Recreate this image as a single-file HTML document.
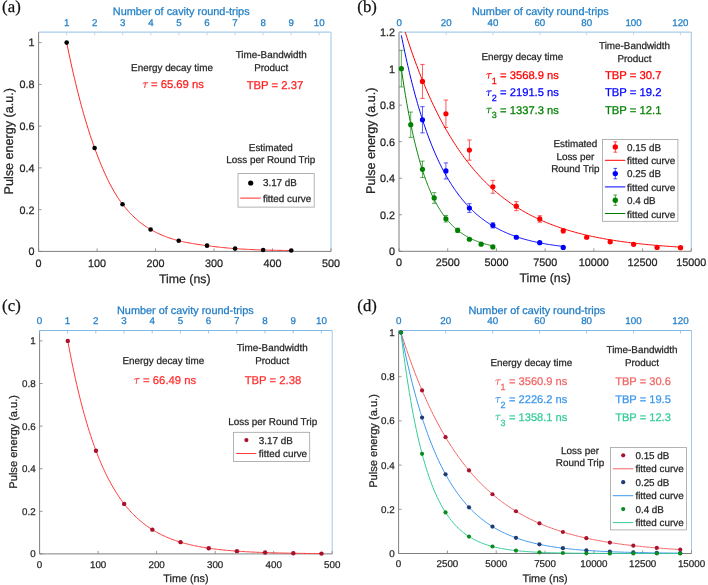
<!DOCTYPE html><html><head><meta charset="utf-8"><style>html,body{margin:0;padding:0;background:#fff;}svg{display:block;will-change:transform;}text{text-rendering:geometricPrecision;stroke:currentColor;stroke-width:0.25px;}text{font-family:"Liberation Sans", sans-serif;}</style></head><body>
<svg width="708" height="585" viewBox="0 0 708 585">
<rect width="708" height="585" fill="#fff"/>
<line x1="38.60" y1="32.20" x2="331.00" y2="32.20" stroke="#a9cdea" stroke-width="1.2"/>
<line x1="331.00" y1="32.20" x2="331.00" y2="251.40" stroke="#a9cdea" stroke-width="1.2"/>
<line x1="38.60" y1="32.20" x2="38.60" y2="251.40" stroke="#7f7f7f" stroke-width="1"/>
<line x1="38.60" y1="251.40" x2="331.00" y2="251.40" stroke="#7f7f7f" stroke-width="1"/>
<line x1="38.60" y1="251.40" x2="41.60" y2="251.40" stroke="#7f7f7f" stroke-width="0.8"/>
<text x="34.60" y="255.29" font-size="10.8" fill="#262626" color="#262626" text-anchor="end" >0</text>
<line x1="38.60" y1="209.64" x2="41.60" y2="209.64" stroke="#7f7f7f" stroke-width="0.8"/>
<text x="34.60" y="213.53" font-size="10.8" fill="#262626" color="#262626" text-anchor="end" >0.2</text>
<line x1="38.60" y1="167.88" x2="41.60" y2="167.88" stroke="#7f7f7f" stroke-width="0.8"/>
<text x="34.60" y="171.77" font-size="10.8" fill="#262626" color="#262626" text-anchor="end" >0.4</text>
<line x1="38.60" y1="126.12" x2="41.60" y2="126.12" stroke="#7f7f7f" stroke-width="0.8"/>
<text x="34.60" y="130.01" font-size="10.8" fill="#262626" color="#262626" text-anchor="end" >0.6</text>
<line x1="38.60" y1="84.36" x2="41.60" y2="84.36" stroke="#7f7f7f" stroke-width="0.8"/>
<text x="34.60" y="88.25" font-size="10.8" fill="#262626" color="#262626" text-anchor="end" >0.8</text>
<line x1="38.60" y1="42.60" x2="41.60" y2="42.60" stroke="#7f7f7f" stroke-width="0.8"/>
<text x="34.60" y="46.49" font-size="10.8" fill="#262626" color="#262626" text-anchor="end" >1</text>
<line x1="38.60" y1="251.40" x2="38.60" y2="248.40" stroke="#7f7f7f" stroke-width="0.8"/>
<text x="38.60" y="266.60" font-size="10.8" fill="#262626" color="#262626" text-anchor="middle" >0</text>
<line x1="97.08" y1="251.40" x2="97.08" y2="248.40" stroke="#7f7f7f" stroke-width="0.8"/>
<text x="97.08" y="266.60" font-size="10.8" fill="#262626" color="#262626" text-anchor="middle" >100</text>
<line x1="155.56" y1="251.40" x2="155.56" y2="248.40" stroke="#7f7f7f" stroke-width="0.8"/>
<text x="155.56" y="266.60" font-size="10.8" fill="#262626" color="#262626" text-anchor="middle" >200</text>
<line x1="214.04" y1="251.40" x2="214.04" y2="248.40" stroke="#7f7f7f" stroke-width="0.8"/>
<text x="214.04" y="266.60" font-size="10.8" fill="#262626" color="#262626" text-anchor="middle" >300</text>
<line x1="272.52" y1="251.40" x2="272.52" y2="248.40" stroke="#7f7f7f" stroke-width="0.8"/>
<text x="272.52" y="266.60" font-size="10.8" fill="#262626" color="#262626" text-anchor="middle" >400</text>
<line x1="331.00" y1="251.40" x2="331.00" y2="248.40" stroke="#7f7f7f" stroke-width="0.8"/>
<text x="331.00" y="266.60" font-size="10.8" fill="#262626" color="#262626" text-anchor="middle" >500</text>
<line x1="66.66" y1="32.20" x2="66.66" y2="35.20" stroke="#a9cdea" stroke-width="0.8"/>
<text x="66.66" y="26.20" font-size="9.7" fill="#2380c6" color="#2380c6" text-anchor="middle" >1</text>
<line x1="94.72" y1="32.20" x2="94.72" y2="35.20" stroke="#a9cdea" stroke-width="0.8"/>
<text x="94.72" y="26.20" font-size="9.7" fill="#2380c6" color="#2380c6" text-anchor="middle" >2</text>
<line x1="122.78" y1="32.20" x2="122.78" y2="35.20" stroke="#a9cdea" stroke-width="0.8"/>
<text x="122.78" y="26.20" font-size="9.7" fill="#2380c6" color="#2380c6" text-anchor="middle" >3</text>
<line x1="150.84" y1="32.20" x2="150.84" y2="35.20" stroke="#a9cdea" stroke-width="0.8"/>
<text x="150.84" y="26.20" font-size="9.7" fill="#2380c6" color="#2380c6" text-anchor="middle" >4</text>
<line x1="178.90" y1="32.20" x2="178.90" y2="35.20" stroke="#a9cdea" stroke-width="0.8"/>
<text x="178.90" y="26.20" font-size="9.7" fill="#2380c6" color="#2380c6" text-anchor="middle" >5</text>
<line x1="206.96" y1="32.20" x2="206.96" y2="35.20" stroke="#a9cdea" stroke-width="0.8"/>
<text x="206.96" y="26.20" font-size="9.7" fill="#2380c6" color="#2380c6" text-anchor="middle" >6</text>
<line x1="235.02" y1="32.20" x2="235.02" y2="35.20" stroke="#a9cdea" stroke-width="0.8"/>
<text x="235.02" y="26.20" font-size="9.7" fill="#2380c6" color="#2380c6" text-anchor="middle" >7</text>
<line x1="263.08" y1="32.20" x2="263.08" y2="35.20" stroke="#a9cdea" stroke-width="0.8"/>
<text x="263.08" y="26.20" font-size="9.7" fill="#2380c6" color="#2380c6" text-anchor="middle" >8</text>
<line x1="291.14" y1="32.20" x2="291.14" y2="35.20" stroke="#a9cdea" stroke-width="0.8"/>
<text x="291.14" y="26.20" font-size="9.7" fill="#2380c6" color="#2380c6" text-anchor="middle" >9</text>
<line x1="319.20" y1="32.20" x2="319.20" y2="35.20" stroke="#a9cdea" stroke-width="0.8"/>
<text x="319.20" y="26.20" font-size="9.7" fill="#2380c6" color="#2380c6" text-anchor="middle" >10</text>
<text x="181.20" y="15.40" font-size="10.9" fill="#2380c6" color="#2380c6" text-anchor="middle" >Number of cavity round-trips</text>
<text x="184.80" y="283.00" font-size="12.3" fill="#262626" color="#262626" text-anchor="middle" >Time (ns)</text>
<text transform="translate(13.40,141.30) rotate(-90)" font-size="12.6" fill="#262626" color="#262626" text-anchor="middle">Pulse energy (a.u.)</text>
<polyline fill="none" stroke="#ff2a2a" stroke-width="1.0" points="66.67,42.60 67.79,48.09 68.92,53.47 70.04,58.73 71.16,63.88 72.28,68.91 73.41,73.83 74.53,78.65 75.65,83.35 76.78,87.95 77.90,92.45 79.02,96.84 80.14,101.13 81.27,105.32 82.39,109.41 83.51,113.40 84.64,117.30 85.76,121.11 86.88,124.82 88.00,128.44 89.13,131.97 90.25,135.42 91.37,138.78 92.50,142.06 93.62,145.25 94.74,148.36 95.86,151.41 96.99,154.39 98.11,157.31 99.23,160.17 100.35,162.96 101.48,165.68 102.60,168.33 103.72,170.92 104.85,173.43 105.97,175.88 107.09,178.26 108.21,180.56 109.34,182.80 110.46,184.97 111.58,187.08 112.71,189.11 113.83,191.08 114.95,192.99 116.07,194.83 117.20,196.60 118.32,198.32 119.44,199.98 120.57,201.57 121.69,203.11 122.81,204.59 123.93,206.03 125.06,207.42 126.18,208.76 127.30,210.07 128.43,211.33 129.55,212.56 130.67,213.75 131.79,214.90 132.92,216.01 134.04,217.09 135.16,218.14 136.28,219.15 137.41,220.12 138.53,221.07 139.65,221.99 140.78,222.87 141.90,223.73 143.02,224.56 144.14,225.36 145.27,226.14 146.39,226.89 147.51,227.61 148.64,228.31 149.76,228.99 150.88,229.64 152.00,230.28 153.13,230.90 154.25,231.50 155.37,232.08 156.50,232.64 157.62,233.19 158.74,233.72 159.86,234.23 160.99,234.73 162.11,235.21 163.23,235.67 164.36,236.12 165.48,236.56 166.60,236.98 167.72,237.39 168.85,237.78 169.97,238.16 171.09,238.53 172.22,238.88 173.34,239.23 174.46,239.56 175.58,239.88 176.71,240.18 177.83,240.48 178.95,240.77 180.07,241.04 181.20,241.31 182.32,241.56 183.44,241.80 184.57,242.04 185.69,242.27 186.81,242.49 187.93,242.70 189.06,242.91 190.18,243.11 191.30,243.30 192.43,243.49 193.55,243.68 194.67,243.86 195.79,244.03 196.92,244.21 198.04,244.38 199.16,244.55 200.29,244.71 201.41,244.87 202.53,245.04 203.65,245.19 204.78,245.35 205.90,245.50 207.02,245.66 208.15,245.81 209.27,245.96 210.39,246.11 211.51,246.25 212.64,246.39 213.76,246.53 214.88,246.67 216.00,246.80 217.13,246.94 218.25,247.06 219.37,247.19 220.50,247.31 221.62,247.43 222.74,247.55 223.86,247.66 224.99,247.77 226.11,247.87 227.23,247.97 228.36,248.07 229.48,248.17 230.60,248.26 231.72,248.35 232.85,248.44 233.97,248.52 235.09,248.60 236.22,248.68 237.34,248.76 238.46,248.83 239.58,248.90 240.71,248.98 241.83,249.05 242.95,249.11 244.08,249.18 245.20,249.24 246.32,249.30 247.44,249.36 248.57,249.42 249.69,249.48 250.81,249.53 251.94,249.58 253.06,249.63 254.18,249.68 255.30,249.73 256.43,249.77 257.55,249.81 258.67,249.86 259.79,249.89 260.92,249.93 262.04,249.97 263.16,250.00 264.29,250.03 265.41,250.07 266.53,250.10 267.65,250.13 268.78,250.15 269.90,250.18 271.02,250.21 272.15,250.23 273.27,250.26 274.39,250.28 275.51,250.31 276.64,250.33 277.76,250.35 278.88,250.37 280.01,250.39 281.13,250.41 282.25,250.43 283.37,250.45 284.50,250.47 285.62,250.49 286.74,250.50 287.87,250.52 288.99,250.54 290.11,250.55 291.23,250.56"/>
<circle cx="66.67" cy="42.60" r="2.3" fill="#000"/>
<circle cx="94.62" cy="148.04" r="2.3" fill="#000"/>
<circle cx="122.52" cy="204.21" r="2.3" fill="#000"/>
<circle cx="150.59" cy="229.48" r="2.3" fill="#000"/>
<circle cx="178.72" cy="240.71" r="2.3" fill="#000"/>
<circle cx="207.02" cy="245.66" r="2.3" fill="#000"/>
<circle cx="235.09" cy="248.60" r="2.3" fill="#000"/>
<circle cx="263.16" cy="250.00" r="2.3" fill="#000"/>
<circle cx="291.23" cy="250.56" r="2.3" fill="#000"/>
<text x="172.00" y="70.70" font-size="9.9" fill="#262626" color="#262626" text-anchor="middle" >Energy decay time</text>
<path d="M142.70,83.70 Q143.50,82.70 144.80,82.80 L148.20,82.80 M145.40,82.90 Q145.10,85.50 144.70,87.90" fill="none" stroke="#ff2020" stroke-width="0.95" stroke-linecap="butt"/>
<text x="150.90" y="88.10" font-size="11.3" fill="#ff2020" color="#ff2020" text-anchor="start" >= 65.69 ns</text>
<text x="271.20" y="58.30" font-size="9.9" fill="#262626" color="#262626" text-anchor="middle" >Time-Bandwidth</text>
<text x="271.20" y="70.80" font-size="9.9" fill="#262626" color="#262626" text-anchor="middle" >Product</text>
<text x="275.00" y="89.20" font-size="11.3" fill="#ff2020" color="#ff2020" text-anchor="middle" >TBP = 2.37</text>
<text x="270.80" y="150.80" font-size="9.9" fill="#262626" color="#262626" text-anchor="middle" >Estimated</text>
<text x="270.80" y="163.40" font-size="9.9" fill="#262626" color="#262626" text-anchor="middle" >Loss per Round Trip</text>
<rect x="238" y="173.6" width="76.2" height="33.5" fill="#fff" stroke="#a0a0a0" stroke-width="0.8"/>
<circle cx="250.70" cy="183.00" r="2.6" fill="#000"/>
<text x="262.90" y="186.40" font-size="9.9" fill="#262626" color="#262626" text-anchor="start" >3.17 dB</text>
<line x1="240.20" y1="198.10" x2="260.80" y2="198.10" stroke="#ff2a2a" stroke-width="1.0"/>
<text x="262.90" y="202.00" font-size="9.9" fill="#262626" color="#262626" text-anchor="start" >fitted curve</text>
<text x="2.10" y="11.70" font-size="16.8" fill="#111" color="#111" text-anchor="start" style="font-family:Liberation Serif">(a)</text>
<line x1="399.00" y1="32.10" x2="691.30" y2="32.10" stroke="#a9cdea" stroke-width="1.2"/>
<line x1="691.30" y1="32.10" x2="691.30" y2="251.30" stroke="#a9cdea" stroke-width="1.2"/>
<line x1="399.00" y1="32.10" x2="399.00" y2="251.30" stroke="#7f7f7f" stroke-width="1"/>
<line x1="399.00" y1="251.30" x2="691.30" y2="251.30" stroke="#7f7f7f" stroke-width="1"/>
<line x1="399.00" y1="251.30" x2="402.00" y2="251.30" stroke="#7f7f7f" stroke-width="0.8"/>
<text x="395.00" y="255.19" font-size="10.8" fill="#262626" color="#262626" text-anchor="end" >0</text>
<line x1="399.00" y1="214.77" x2="402.00" y2="214.77" stroke="#7f7f7f" stroke-width="0.8"/>
<text x="395.00" y="218.65" font-size="10.8" fill="#262626" color="#262626" text-anchor="end" >0.2</text>
<line x1="399.00" y1="178.23" x2="402.00" y2="178.23" stroke="#7f7f7f" stroke-width="0.8"/>
<text x="395.00" y="182.12" font-size="10.8" fill="#262626" color="#262626" text-anchor="end" >0.4</text>
<line x1="399.00" y1="141.70" x2="402.00" y2="141.70" stroke="#7f7f7f" stroke-width="0.8"/>
<text x="395.00" y="145.59" font-size="10.8" fill="#262626" color="#262626" text-anchor="end" >0.6</text>
<line x1="399.00" y1="105.17" x2="402.00" y2="105.17" stroke="#7f7f7f" stroke-width="0.8"/>
<text x="395.00" y="109.05" font-size="10.8" fill="#262626" color="#262626" text-anchor="end" >0.8</text>
<line x1="399.00" y1="68.63" x2="402.00" y2="68.63" stroke="#7f7f7f" stroke-width="0.8"/>
<text x="395.00" y="72.52" font-size="10.8" fill="#262626" color="#262626" text-anchor="end" >1</text>
<line x1="399.00" y1="32.10" x2="402.00" y2="32.10" stroke="#7f7f7f" stroke-width="0.8"/>
<text x="395.00" y="35.99" font-size="10.8" fill="#262626" color="#262626" text-anchor="end" >1.2</text>
<line x1="399.00" y1="251.30" x2="399.00" y2="248.30" stroke="#7f7f7f" stroke-width="0.8"/>
<text x="399.00" y="266.40" font-size="10.8" fill="#262626" color="#262626" text-anchor="middle" >0</text>
<line x1="447.72" y1="251.30" x2="447.72" y2="248.30" stroke="#7f7f7f" stroke-width="0.8"/>
<text x="447.72" y="266.40" font-size="10.8" fill="#262626" color="#262626" text-anchor="middle" >2500</text>
<line x1="496.43" y1="251.30" x2="496.43" y2="248.30" stroke="#7f7f7f" stroke-width="0.8"/>
<text x="496.43" y="266.40" font-size="10.8" fill="#262626" color="#262626" text-anchor="middle" >5000</text>
<line x1="545.15" y1="251.30" x2="545.15" y2="248.30" stroke="#7f7f7f" stroke-width="0.8"/>
<text x="545.15" y="266.40" font-size="10.8" fill="#262626" color="#262626" text-anchor="middle" >7500</text>
<line x1="593.87" y1="251.30" x2="593.87" y2="248.30" stroke="#7f7f7f" stroke-width="0.8"/>
<text x="593.87" y="266.40" font-size="10.8" fill="#262626" color="#262626" text-anchor="middle" >10000</text>
<line x1="642.58" y1="251.30" x2="642.58" y2="248.30" stroke="#7f7f7f" stroke-width="0.8"/>
<text x="642.58" y="266.40" font-size="10.8" fill="#262626" color="#262626" text-anchor="middle" >12500</text>
<line x1="691.30" y1="251.30" x2="691.30" y2="248.30" stroke="#7f7f7f" stroke-width="0.8"/>
<text x="691.30" y="266.40" font-size="10.8" fill="#262626" color="#262626" text-anchor="middle" >15000</text>
<line x1="399.30" y1="32.10" x2="399.30" y2="35.10" stroke="#a9cdea" stroke-width="0.8"/>
<text x="399.30" y="26.00" font-size="9.7" fill="#2380c6" color="#2380c6" text-anchor="middle" >0</text>
<line x1="446.15" y1="32.10" x2="446.15" y2="35.10" stroke="#a9cdea" stroke-width="0.8"/>
<text x="446.15" y="26.00" font-size="9.7" fill="#2380c6" color="#2380c6" text-anchor="middle" >20</text>
<line x1="493.00" y1="32.10" x2="493.00" y2="35.10" stroke="#a9cdea" stroke-width="0.8"/>
<text x="493.00" y="26.00" font-size="9.7" fill="#2380c6" color="#2380c6" text-anchor="middle" >40</text>
<line x1="539.85" y1="32.10" x2="539.85" y2="35.10" stroke="#a9cdea" stroke-width="0.8"/>
<text x="539.85" y="26.00" font-size="9.7" fill="#2380c6" color="#2380c6" text-anchor="middle" >60</text>
<line x1="586.70" y1="32.10" x2="586.70" y2="35.10" stroke="#a9cdea" stroke-width="0.8"/>
<text x="586.70" y="26.00" font-size="9.7" fill="#2380c6" color="#2380c6" text-anchor="middle" >80</text>
<line x1="633.55" y1="32.10" x2="633.55" y2="35.10" stroke="#a9cdea" stroke-width="0.8"/>
<text x="633.55" y="26.00" font-size="9.7" fill="#2380c6" color="#2380c6" text-anchor="middle" >100</text>
<line x1="680.40" y1="32.10" x2="680.40" y2="35.10" stroke="#a9cdea" stroke-width="0.8"/>
<text x="680.40" y="26.00" font-size="9.7" fill="#2380c6" color="#2380c6" text-anchor="middle" >120</text>
<text x="540.30" y="15.30" font-size="10.9" fill="#2380c6" color="#2380c6" text-anchor="middle" >Number of cavity round-trips</text>
<text x="545.15" y="282.20" font-size="12.3" fill="#262626" color="#262626" text-anchor="middle" >Time (ns)</text>
<text transform="translate(374.60,140.80) rotate(-90)" font-size="12.6" fill="#262626" color="#262626" text-anchor="middle">Pulse energy (a.u.)</text>
<svg x="0" y="0" width="708" height="585" overflow="hidden"><clipPath id="cb"><rect x="399" y="32.1" width="292.3" height="219.2"/></clipPath><g clip-path="url(#cb)">
<polyline fill="none" stroke="#ff0000" stroke-width="1.0" points="401.35,19.59 402.74,24.20 404.14,28.71 405.53,33.13 406.93,37.47 408.33,41.72 409.72,45.88 411.12,49.97 412.51,53.97 413.91,57.89 415.31,61.73 416.70,65.50 418.10,69.19 419.49,72.81 420.89,76.36 422.29,79.83 423.68,83.24 425.08,86.58 426.47,89.85 427.87,93.06 429.27,96.21 430.66,99.29 432.06,102.31 433.45,105.27 434.85,108.17 436.25,111.02 437.64,113.81 439.04,116.54 440.43,119.22 441.83,121.84 443.23,124.41 444.62,126.93 446.02,129.41 447.41,131.83 448.81,134.20 450.21,136.53 451.60,138.81 453.00,141.05 454.39,143.24 455.79,145.38 457.19,147.49 458.58,149.55 459.98,151.57 461.37,153.56 462.77,155.50 464.17,157.40 465.56,159.27 466.96,161.10 468.35,162.89 469.75,164.65 471.15,166.37 472.54,168.06 473.94,169.71 475.33,171.33 476.73,172.92 478.13,174.48 479.52,176.01 480.92,177.50 482.31,178.97 483.71,180.41 485.11,181.82 486.50,183.20 487.90,184.55 489.29,185.88 490.69,187.18 492.09,188.45 493.48,189.70 494.88,190.92 496.27,192.12 497.67,193.30 499.07,194.45 500.46,195.58 501.86,196.69 503.25,197.77 504.65,198.84 506.05,199.88 507.44,200.90 508.84,201.90 510.23,202.89 511.63,203.85 513.03,204.79 514.42,205.71 515.82,206.62 517.21,207.51 518.61,208.38 520.00,209.23 521.40,210.07 522.80,210.89 524.19,211.69 525.59,212.48 526.98,213.25 528.38,214.01 529.78,214.75 531.17,215.47 532.57,216.18 533.96,216.88 535.36,217.57 536.76,218.24 538.15,218.89 539.55,219.54 540.94,220.17 542.34,220.79 543.74,221.39 545.13,221.99 546.53,222.57 547.92,223.14 549.32,223.70 550.72,224.25 552.11,224.79 553.51,225.31 554.90,225.83 556.30,226.34 557.70,226.83 559.09,227.32 560.49,227.80 561.88,228.26 563.28,228.72 564.68,229.17 566.07,229.61 567.47,230.04 568.86,230.46 570.26,230.88 571.66,231.28 573.05,231.68 574.45,232.07 575.84,232.45 577.24,232.83 578.64,233.19 580.03,233.55 581.43,233.91 582.82,234.25 584.22,234.59 585.62,234.92 587.01,235.25 588.41,235.57 589.80,235.88 591.20,236.19 592.60,236.49 593.99,236.78 595.39,237.07 596.78,237.35 598.18,237.63 599.58,237.90 600.97,238.17 602.37,238.43 603.76,238.68 605.16,238.94 606.56,239.18 607.95,239.42 609.35,239.66 610.74,239.89 612.14,240.12 613.54,240.34 614.93,240.56 616.33,240.77 617.72,240.98 619.12,241.18 620.52,241.39 621.91,241.58 623.31,241.78 624.70,241.96 626.10,242.15 627.50,242.33 628.89,242.51 630.29,242.68 631.68,242.86 633.08,243.02 634.48,243.19 635.87,243.35 637.27,243.51 638.66,243.66 640.06,243.81 641.46,243.96 642.85,244.11 644.25,244.25 645.64,244.39 647.04,244.53 648.44,244.66 649.83,244.80 651.23,244.92 652.62,245.05 654.02,245.18 655.42,245.30 656.81,245.42 658.21,245.53 659.60,245.65 661.00,245.76 662.40,245.87 663.79,245.98 665.19,246.08 666.58,246.19 667.98,246.29 669.38,246.39 670.77,246.49 672.17,246.58 673.56,246.68 674.96,246.77 676.36,246.86 677.75,246.95 679.15,247.03 680.54,247.12"/>
<polyline fill="none" stroke="#0000ff" stroke-width="1.0" points="401.35,35.35 402.16,39.40 402.97,43.38 403.77,47.28 404.58,51.11 405.39,54.87 406.20,58.56 407.01,62.18 407.82,65.73 408.63,69.21 409.44,72.63 410.25,75.99 411.06,79.28 411.87,82.51 412.68,85.68 413.49,88.79 414.30,91.84 415.11,94.83 415.92,97.77 416.73,100.65 417.53,103.48 418.34,106.26 419.15,108.98 419.96,111.65 420.77,114.27 421.58,116.85 422.39,119.37 423.20,121.85 424.01,124.28 424.82,126.66 425.63,129.00 426.44,131.30 427.25,133.55 428.06,135.76 428.87,137.93 429.68,140.06 430.49,142.15 431.30,144.20 432.10,146.21 432.91,148.18 433.72,150.12 434.53,152.02 435.34,153.88 436.15,155.71 436.96,157.51 437.77,159.27 438.58,161.00 439.39,162.69 440.20,164.36 441.01,165.99 441.82,167.59 442.63,169.16 443.44,170.70 444.25,172.22 445.06,173.70 445.87,175.16 446.67,176.59 447.48,177.99 448.29,179.37 449.10,180.72 449.91,182.04 450.72,183.34 451.53,184.62 452.34,185.87 453.15,187.10 453.96,188.31 454.77,189.49 455.58,190.65 456.39,191.79 457.20,192.90 458.01,194.00 458.82,195.08 459.63,196.13 460.44,197.17 461.24,198.18 462.05,199.18 462.86,200.16 463.67,201.12 464.48,202.06 465.29,202.99 466.10,203.89 466.91,204.78 467.72,205.66 468.53,206.52 469.34,207.36 470.15,208.18 470.96,208.99 471.77,209.78 472.58,210.56 473.39,211.33 474.20,212.08 475.00,212.82 475.81,213.54 476.62,214.25 477.43,214.94 478.24,215.63 479.05,216.30 479.86,216.95 480.67,217.60 481.48,218.23 482.29,218.85 483.10,219.46 483.91,220.06 484.72,220.65 485.53,221.22 486.34,221.79 487.15,222.34 487.96,222.88 488.77,223.42 489.57,223.94 490.38,224.45 491.19,224.96 492.00,225.45 492.81,225.94 493.62,226.41 494.43,226.88 495.24,227.34 496.05,227.79 496.86,228.23 497.67,228.66 498.48,229.09 499.29,229.51 500.10,229.92 500.91,230.32 501.72,230.71 502.53,231.10 503.34,231.48 504.14,231.85 504.95,232.21 505.76,232.57 506.57,232.92 507.38,233.27 508.19,233.61 509.00,233.94 509.81,234.27 510.62,234.59 511.43,234.90 512.24,235.21 513.05,235.51 513.86,235.81 514.67,236.10 515.48,236.38 516.29,236.66 517.10,236.94 517.91,237.21 518.71,237.47 519.52,237.73 520.33,237.99 521.14,238.24 521.95,238.48 522.76,238.72 523.57,238.96 524.38,239.19 525.19,239.42 526.00,239.64 526.81,239.86 527.62,240.07 528.43,240.28 529.24,240.49 530.05,240.69 530.86,240.89 531.67,241.09 532.48,241.28 533.28,241.47 534.09,241.65 534.90,241.83 535.71,242.01 536.52,242.19 537.33,242.36 538.14,242.53 538.95,242.69 539.76,242.85 540.57,243.01 541.38,243.17 542.19,243.32 543.00,243.47 543.81,243.62 544.62,243.76 545.43,243.90 546.24,244.04 547.04,244.18 547.85,244.31 548.66,244.44 549.47,244.57 550.28,244.70 551.09,244.82 551.90,244.94 552.71,245.06 553.52,245.18 554.33,245.29 555.14,245.41 555.95,245.52 556.76,245.63 557.57,245.73 558.38,245.84 559.19,245.94 560.00,246.04 560.81,246.14 561.61,246.24 562.42,246.33 563.23,246.42"/>
<polyline fill="none" stroke="#008000" stroke-width="1.0" points="401.35,68.67 401.80,71.85 402.26,74.97 402.72,78.04 403.18,81.05 403.63,84.02 404.09,86.93 404.55,89.79 405.01,92.60 405.46,95.36 405.92,98.07 406.38,100.74 406.84,103.36 407.29,105.94 407.75,108.47 408.21,110.95 408.67,113.39 409.12,115.79 409.58,118.15 410.04,120.47 410.50,122.75 410.95,124.98 411.41,127.18 411.87,129.34 412.33,131.46 412.78,133.55 413.24,135.60 413.70,137.61 414.16,139.59 414.61,141.54 415.07,143.45 415.53,145.32 415.99,147.17 416.44,148.98 416.90,150.76 417.36,152.51 417.82,154.23 418.27,155.92 418.73,157.58 419.19,159.21 419.65,160.81 420.10,162.39 420.56,163.93 421.02,165.45 421.48,166.95 421.93,168.42 422.39,169.86 422.85,171.28 423.31,172.67 423.76,174.04 424.22,175.38 424.68,176.70 425.14,178.00 425.59,179.28 426.05,180.53 426.51,181.76 426.97,182.97 427.42,184.16 427.88,185.33 428.34,186.48 428.80,187.61 429.25,188.71 429.71,189.80 430.17,190.87 430.63,191.93 431.08,192.96 431.54,193.97 432.00,194.97 432.46,195.95 432.91,196.91 433.37,197.86 433.83,198.79 434.29,199.71 434.74,200.60 435.20,201.49 435.66,202.35 436.12,203.20 436.57,204.04 437.03,204.86 437.49,205.67 437.95,206.47 438.40,207.25 438.86,208.01 439.32,208.77 439.78,209.51 440.23,210.23 440.69,210.95 441.15,211.65 441.61,212.34 442.06,213.02 442.52,213.68 442.98,214.34 443.44,214.98 443.89,215.61 444.35,216.24 444.81,216.85 445.27,217.45 445.72,218.03 446.18,218.61 446.64,219.18 447.10,219.74 447.55,220.29 448.01,220.83 448.47,221.36 448.93,221.88 449.38,222.39 449.84,222.90 450.30,223.39 450.76,223.88 451.21,224.35 451.67,224.82 452.13,225.28 452.59,225.74 453.04,226.18 453.50,226.62 453.96,227.05 454.42,227.47 454.87,227.88 455.33,228.29 455.79,228.69 456.25,229.09 456.70,229.47 457.16,229.85 457.62,230.23 458.08,230.59 458.53,230.95 458.99,231.31 459.45,231.65 459.91,232.00 460.36,232.33 460.82,232.66 461.28,232.99 461.74,233.31 462.19,233.62 462.65,233.93 463.11,234.23 463.57,234.53 464.02,234.82 464.48,235.10 464.94,235.39 465.40,235.66 465.85,235.94 466.31,236.20 466.77,236.47 467.23,236.72 467.68,236.98 468.14,237.23 468.60,237.47 469.06,237.71 469.51,237.95 469.97,238.18 470.43,238.41 470.89,238.63 471.34,238.85 471.80,239.07 472.26,239.28 472.72,239.49 473.17,239.70 473.63,239.90 474.09,240.10 474.55,240.29 475.00,240.49 475.46,240.67 475.92,240.86 476.38,241.04 476.84,241.22 477.29,241.39 477.75,241.57 478.21,241.74 478.67,241.90 479.12,242.07 479.58,242.23 480.04,242.38 480.50,242.54 480.95,242.69 481.41,242.84 481.87,242.99 482.33,243.13 482.78,243.28 483.24,243.42 483.70,243.55 484.16,243.69 484.61,243.82 485.07,243.95 485.53,244.08 485.99,244.20 486.44,244.33 486.90,244.45 487.36,244.57 487.82,244.69 488.27,244.80 488.73,244.91 489.19,245.02 489.65,245.13 490.10,245.24 490.56,245.35 491.02,245.45 491.48,245.55 491.93,245.65 492.39,245.75 492.85,245.85"/>
</g></svg>
<line x1="422.46" y1="64.43" x2="422.46" y2="98.41" stroke="#ff0000" stroke-width="0.65"/>
<line x1="420.26" y1="64.43" x2="424.66" y2="64.43" stroke="#ff0000" stroke-width="0.65"/>
<line x1="420.26" y1="98.41" x2="424.66" y2="98.41" stroke="#ff0000" stroke-width="0.65"/>
<circle cx="422.46" cy="81.42" r="2.6" fill="#ff0000"/>
<line x1="445.92" y1="100.00" x2="445.92" y2="127.51" stroke="#ff0000" stroke-width="0.65"/>
<line x1="443.72" y1="100.00" x2="448.12" y2="100.00" stroke="#ff0000" stroke-width="0.65"/>
<line x1="443.72" y1="127.51" x2="448.12" y2="127.51" stroke="#ff0000" stroke-width="0.65"/>
<circle cx="445.92" cy="113.75" r="2.6" fill="#ff0000"/>
<line x1="469.39" y1="139.98" x2="469.39" y2="160.22" stroke="#ff0000" stroke-width="0.65"/>
<line x1="467.19" y1="139.98" x2="471.59" y2="139.98" stroke="#ff0000" stroke-width="0.65"/>
<line x1="467.19" y1="160.22" x2="471.59" y2="160.22" stroke="#ff0000" stroke-width="0.65"/>
<circle cx="469.39" cy="150.10" r="2.6" fill="#ff0000"/>
<line x1="492.85" y1="180.37" x2="492.85" y2="193.27" stroke="#ff0000" stroke-width="0.65"/>
<line x1="490.65" y1="180.37" x2="495.05" y2="180.37" stroke="#ff0000" stroke-width="0.65"/>
<line x1="490.65" y1="193.27" x2="495.05" y2="193.27" stroke="#ff0000" stroke-width="0.65"/>
<circle cx="492.85" cy="186.82" r="2.6" fill="#ff0000"/>
<line x1="516.31" y1="201.67" x2="516.31" y2="210.69" stroke="#ff0000" stroke-width="0.65"/>
<line x1="514.11" y1="201.67" x2="518.51" y2="201.67" stroke="#ff0000" stroke-width="0.65"/>
<line x1="514.11" y1="210.69" x2="518.51" y2="210.69" stroke="#ff0000" stroke-width="0.65"/>
<circle cx="516.31" cy="206.18" r="2.6" fill="#ff0000"/>
<line x1="539.77" y1="215.73" x2="539.77" y2="222.20" stroke="#ff0000" stroke-width="0.65"/>
<line x1="537.57" y1="215.73" x2="541.97" y2="215.73" stroke="#ff0000" stroke-width="0.65"/>
<line x1="537.57" y1="222.20" x2="541.97" y2="222.20" stroke="#ff0000" stroke-width="0.65"/>
<circle cx="539.77" cy="218.97" r="2.6" fill="#ff0000"/>
<line x1="563.23" y1="228.80" x2="563.23" y2="232.89" stroke="#ff0000" stroke-width="0.65"/>
<line x1="561.03" y1="228.80" x2="565.43" y2="228.80" stroke="#ff0000" stroke-width="0.65"/>
<line x1="561.03" y1="232.89" x2="565.43" y2="232.89" stroke="#ff0000" stroke-width="0.65"/>
<circle cx="563.23" cy="230.84" r="2.6" fill="#ff0000"/>
<line x1="586.70" y1="235.83" x2="586.70" y2="238.64" stroke="#ff0000" stroke-width="0.65"/>
<line x1="584.50" y1="235.83" x2="588.90" y2="235.83" stroke="#ff0000" stroke-width="0.65"/>
<line x1="584.50" y1="238.64" x2="588.90" y2="238.64" stroke="#ff0000" stroke-width="0.65"/>
<circle cx="586.70" cy="237.23" r="2.6" fill="#ff0000"/>
<line x1="610.16" y1="240.85" x2="610.16" y2="242.75" stroke="#ff0000" stroke-width="0.65"/>
<line x1="607.96" y1="240.85" x2="612.36" y2="240.85" stroke="#ff0000" stroke-width="0.65"/>
<line x1="607.96" y1="242.75" x2="612.36" y2="242.75" stroke="#ff0000" stroke-width="0.65"/>
<circle cx="610.16" cy="241.80" r="2.6" fill="#ff0000"/>
<line x1="633.62" y1="243.66" x2="633.62" y2="245.05" stroke="#ff0000" stroke-width="0.65"/>
<line x1="631.42" y1="243.66" x2="635.82" y2="243.66" stroke="#ff0000" stroke-width="0.65"/>
<line x1="631.42" y1="245.05" x2="635.82" y2="245.05" stroke="#ff0000" stroke-width="0.65"/>
<circle cx="633.62" cy="244.36" r="2.6" fill="#ff0000"/>
<line x1="657.08" y1="247.08" x2="657.08" y2="247.85" stroke="#ff0000" stroke-width="0.65"/>
<line x1="654.88" y1="247.08" x2="659.28" y2="247.08" stroke="#ff0000" stroke-width="0.65"/>
<line x1="654.88" y1="247.85" x2="659.28" y2="247.85" stroke="#ff0000" stroke-width="0.65"/>
<circle cx="657.08" cy="247.46" r="2.6" fill="#ff0000"/>
<line x1="680.54" y1="247.28" x2="680.54" y2="248.01" stroke="#ff0000" stroke-width="0.65"/>
<line x1="678.34" y1="247.28" x2="682.74" y2="247.28" stroke="#ff0000" stroke-width="0.65"/>
<line x1="678.34" y1="248.01" x2="682.74" y2="248.01" stroke="#ff0000" stroke-width="0.65"/>
<circle cx="680.54" cy="247.65" r="2.6" fill="#ff0000"/>
<line x1="422.46" y1="106.63" x2="422.46" y2="132.93" stroke="#0000ff" stroke-width="0.65"/>
<line x1="420.26" y1="106.63" x2="424.66" y2="106.63" stroke="#0000ff" stroke-width="0.65"/>
<line x1="420.26" y1="132.93" x2="424.66" y2="132.93" stroke="#0000ff" stroke-width="0.65"/>
<circle cx="422.46" cy="119.78" r="2.6" fill="#0000ff"/>
<line x1="445.92" y1="162.89" x2="445.92" y2="178.96" stroke="#0000ff" stroke-width="0.65"/>
<line x1="443.72" y1="162.89" x2="448.12" y2="162.89" stroke="#0000ff" stroke-width="0.65"/>
<line x1="443.72" y1="178.96" x2="448.12" y2="178.96" stroke="#0000ff" stroke-width="0.65"/>
<circle cx="445.92" cy="170.93" r="2.6" fill="#0000ff"/>
<line x1="469.39" y1="203.68" x2="469.39" y2="212.34" stroke="#0000ff" stroke-width="0.65"/>
<line x1="467.19" y1="203.68" x2="471.59" y2="203.68" stroke="#0000ff" stroke-width="0.65"/>
<line x1="467.19" y1="212.34" x2="471.59" y2="212.34" stroke="#0000ff" stroke-width="0.65"/>
<circle cx="469.39" cy="208.01" r="2.6" fill="#0000ff"/>
<line x1="492.85" y1="222.77" x2="492.85" y2="227.96" stroke="#0000ff" stroke-width="0.65"/>
<line x1="490.65" y1="222.77" x2="495.05" y2="222.77" stroke="#0000ff" stroke-width="0.65"/>
<line x1="490.65" y1="227.96" x2="495.05" y2="227.96" stroke="#0000ff" stroke-width="0.65"/>
<circle cx="492.85" cy="225.36" r="2.6" fill="#0000ff"/>
<line x1="516.31" y1="235.83" x2="516.31" y2="238.64" stroke="#0000ff" stroke-width="0.65"/>
<line x1="514.11" y1="235.83" x2="518.51" y2="235.83" stroke="#0000ff" stroke-width="0.65"/>
<line x1="514.11" y1="238.64" x2="518.51" y2="238.64" stroke="#0000ff" stroke-width="0.65"/>
<circle cx="516.31" cy="237.23" r="2.6" fill="#0000ff"/>
<line x1="539.77" y1="241.86" x2="539.77" y2="243.57" stroke="#0000ff" stroke-width="0.65"/>
<line x1="537.57" y1="241.86" x2="541.97" y2="241.86" stroke="#0000ff" stroke-width="0.65"/>
<line x1="537.57" y1="243.57" x2="541.97" y2="243.57" stroke="#0000ff" stroke-width="0.65"/>
<circle cx="539.77" cy="242.71" r="2.6" fill="#0000ff"/>
<line x1="563.23" y1="247.08" x2="563.23" y2="247.85" stroke="#0000ff" stroke-width="0.65"/>
<line x1="561.03" y1="247.08" x2="565.43" y2="247.08" stroke="#0000ff" stroke-width="0.65"/>
<line x1="561.03" y1="247.85" x2="565.43" y2="247.85" stroke="#0000ff" stroke-width="0.65"/>
<circle cx="563.23" cy="247.46" r="2.6" fill="#0000ff"/>
<line x1="401.35" y1="50.37" x2="401.35" y2="86.90" stroke="#008000" stroke-width="0.65"/>
<line x1="399.15" y1="50.37" x2="403.55" y2="50.37" stroke="#008000" stroke-width="0.65"/>
<line x1="399.15" y1="86.90" x2="403.55" y2="86.90" stroke="#008000" stroke-width="0.65"/>
<circle cx="401.35" cy="68.63" r="2.6" fill="#008000"/>
<line x1="410.73" y1="112.05" x2="410.73" y2="137.37" stroke="#008000" stroke-width="0.65"/>
<line x1="408.53" y1="112.05" x2="412.93" y2="112.05" stroke="#008000" stroke-width="0.65"/>
<line x1="408.53" y1="137.37" x2="412.93" y2="137.37" stroke="#008000" stroke-width="0.65"/>
<circle cx="410.73" cy="124.71" r="2.6" fill="#008000"/>
<line x1="422.46" y1="161.08" x2="422.46" y2="177.48" stroke="#008000" stroke-width="0.65"/>
<line x1="420.26" y1="161.08" x2="424.66" y2="161.08" stroke="#008000" stroke-width="0.65"/>
<line x1="420.26" y1="177.48" x2="424.66" y2="177.48" stroke="#008000" stroke-width="0.65"/>
<circle cx="422.46" cy="169.28" r="2.6" fill="#008000"/>
<line x1="434.19" y1="192.63" x2="434.19" y2="203.30" stroke="#008000" stroke-width="0.65"/>
<line x1="431.99" y1="192.63" x2="436.39" y2="192.63" stroke="#008000" stroke-width="0.65"/>
<line x1="431.99" y1="203.30" x2="436.39" y2="203.30" stroke="#008000" stroke-width="0.65"/>
<circle cx="434.19" cy="197.96" r="2.6" fill="#008000"/>
<line x1="445.92" y1="215.53" x2="445.92" y2="222.04" stroke="#008000" stroke-width="0.65"/>
<line x1="443.72" y1="215.53" x2="448.12" y2="215.53" stroke="#008000" stroke-width="0.65"/>
<line x1="443.72" y1="222.04" x2="448.12" y2="222.04" stroke="#008000" stroke-width="0.65"/>
<circle cx="445.92" cy="218.79" r="2.6" fill="#008000"/>
<line x1="457.65" y1="228.19" x2="457.65" y2="232.39" stroke="#008000" stroke-width="0.65"/>
<line x1="455.45" y1="228.19" x2="459.85" y2="228.19" stroke="#008000" stroke-width="0.65"/>
<line x1="455.45" y1="232.39" x2="459.85" y2="232.39" stroke="#008000" stroke-width="0.65"/>
<circle cx="457.65" cy="230.29" r="2.6" fill="#008000"/>
<line x1="469.39" y1="238.04" x2="469.39" y2="240.45" stroke="#008000" stroke-width="0.65"/>
<line x1="467.19" y1="238.04" x2="471.59" y2="238.04" stroke="#008000" stroke-width="0.65"/>
<line x1="467.19" y1="240.45" x2="471.59" y2="240.45" stroke="#008000" stroke-width="0.65"/>
<circle cx="469.39" cy="239.24" r="2.6" fill="#008000"/>
<line x1="481.12" y1="243.46" x2="481.12" y2="244.89" stroke="#008000" stroke-width="0.65"/>
<line x1="478.92" y1="243.46" x2="483.32" y2="243.46" stroke="#008000" stroke-width="0.65"/>
<line x1="478.92" y1="244.89" x2="483.32" y2="244.89" stroke="#008000" stroke-width="0.65"/>
<circle cx="481.12" cy="244.18" r="2.6" fill="#008000"/>
<line x1="492.85" y1="246.48" x2="492.85" y2="247.35" stroke="#008000" stroke-width="0.65"/>
<line x1="490.65" y1="246.48" x2="495.05" y2="246.48" stroke="#008000" stroke-width="0.65"/>
<line x1="490.65" y1="247.35" x2="495.05" y2="247.35" stroke="#008000" stroke-width="0.65"/>
<circle cx="492.85" cy="246.92" r="2.6" fill="#008000"/>
<text x="522.30" y="59.80" font-size="9.9" fill="#262626" color="#262626" text-anchor="middle" >Energy decay time</text>
<path d="M486.30,74.50 Q487.10,73.50 488.40,73.60 L491.80,73.60 M489.00,73.70 Q488.70,76.30 488.30,78.70" fill="none" stroke="#ff0000" stroke-width="0.95" stroke-linecap="butt"/>
<text x="491.8" y="83.80" font-size="9" fill="#ff0000" color="#ff0000">1</text>
<text x="500.10" y="78.90" font-size="11.2" fill="#ff0000" color="#ff0000" text-anchor="start" >= 3568.9 ns</text>
<path d="M486.30,91.80 Q487.10,90.80 488.40,90.90 L491.80,90.90 M489.00,91.00 Q488.70,93.60 488.30,96.00" fill="none" stroke="#0000ff" stroke-width="0.95" stroke-linecap="butt"/>
<text x="491.8" y="101.10" font-size="9" fill="#0000ff" color="#0000ff">2</text>
<text x="500.10" y="96.20" font-size="11.2" fill="#0000ff" color="#0000ff" text-anchor="start" >= 2191.5 ns</text>
<path d="M486.30,109.10 Q487.10,108.10 488.40,108.20 L491.80,108.20 M489.00,108.30 Q488.70,110.90 488.30,113.30" fill="none" stroke="#008000" stroke-width="0.95" stroke-linecap="butt"/>
<text x="491.8" y="118.40" font-size="9" fill="#008000" color="#008000">3</text>
<text x="500.10" y="113.50" font-size="11.2" fill="#008000" color="#008000" text-anchor="start" >= 1337.3 ns</text>
<text x="634.50" y="48.70" font-size="9.9" fill="#262626" color="#262626" text-anchor="middle" >Time-Bandwidth</text>
<text x="634.50" y="61.50" font-size="9.9" fill="#262626" color="#262626" text-anchor="middle" >Product</text>
<text x="633.20" y="78.90" font-size="11.3" fill="#ff0000" color="#ff0000" text-anchor="middle" >TBP = 30.7</text>
<text x="633.20" y="96.20" font-size="11.3" fill="#0000ff" color="#0000ff" text-anchor="middle" >TBP = 19.2</text>
<text x="633.20" y="113.50" font-size="11.3" fill="#008000" color="#008000" text-anchor="middle" >TBP = 12.1</text>
<text x="575.40" y="147.00" font-size="9.9" fill="#262626" color="#262626" text-anchor="middle" >Estimated</text>
<text x="575.40" y="159.65" font-size="9.9" fill="#262626" color="#262626" text-anchor="middle" >Loss per</text>
<text x="575.40" y="172.30" font-size="9.9" fill="#262626" color="#262626" text-anchor="middle" >Round Trip</text>
<rect x="602.4" y="139.5" width="75.5" height="81.8" fill="#fff" stroke="#a0a0a0" stroke-width="0.8"/>
<line x1="615.30" y1="141.80" x2="615.30" y2="152.20" stroke="#ff0000" stroke-width="0.7"/>
<line x1="613.50" y1="141.80" x2="617.10" y2="141.80" stroke="#ff0000" stroke-width="0.7"/>
<line x1="613.50" y1="152.20" x2="617.10" y2="152.20" stroke="#ff0000" stroke-width="0.7"/>
<circle cx="615.30" cy="147.00" r="2.7" fill="#ff0000"/>
<text x="627.00" y="150.80" font-size="9.9" fill="#262626" color="#262626" text-anchor="start" >0.15 dB</text>
<line x1="604.90" y1="160.30" x2="625.40" y2="160.30" stroke="#ff0000" stroke-width="1.0"/>
<text x="627.00" y="164.30" font-size="9.9" fill="#262626" color="#262626" text-anchor="start" >fitted curve</text>
<line x1="615.30" y1="168.40" x2="615.30" y2="178.80" stroke="#0000ff" stroke-width="0.7"/>
<line x1="613.50" y1="168.40" x2="617.10" y2="168.40" stroke="#0000ff" stroke-width="0.7"/>
<line x1="613.50" y1="178.80" x2="617.10" y2="178.80" stroke="#0000ff" stroke-width="0.7"/>
<circle cx="615.30" cy="173.60" r="2.7" fill="#0000ff"/>
<text x="627.00" y="177.40" font-size="9.9" fill="#262626" color="#262626" text-anchor="start" >0.25 dB</text>
<line x1="604.90" y1="186.90" x2="625.40" y2="186.90" stroke="#0000ff" stroke-width="1.0"/>
<text x="627.00" y="190.90" font-size="9.9" fill="#262626" color="#262626" text-anchor="start" >fitted curve</text>
<line x1="615.30" y1="195.00" x2="615.30" y2="205.40" stroke="#008000" stroke-width="0.7"/>
<line x1="613.50" y1="195.00" x2="617.10" y2="195.00" stroke="#008000" stroke-width="0.7"/>
<line x1="613.50" y1="205.40" x2="617.10" y2="205.40" stroke="#008000" stroke-width="0.7"/>
<circle cx="615.30" cy="200.20" r="2.7" fill="#008000"/>
<text x="627.00" y="204.00" font-size="9.9" fill="#262626" color="#262626" text-anchor="start" >0.4 dB</text>
<line x1="604.90" y1="213.50" x2="625.40" y2="213.50" stroke="#008000" stroke-width="1.0"/>
<text x="627.00" y="217.50" font-size="9.9" fill="#262626" color="#262626" text-anchor="start" >fitted curve</text>
<text x="357.30" y="11.70" font-size="16.8" fill="#111" color="#111" text-anchor="start" style="font-family:Liberation Serif">(b)</text>
<line x1="39.60" y1="330.50" x2="332.20" y2="330.50" stroke="#86b9e3" stroke-width="1.0"/>
<line x1="332.20" y1="330.50" x2="332.20" y2="553.90" stroke="#a3c9ea" stroke-width="1.0"/>
<line x1="39.60" y1="330.50" x2="39.60" y2="553.90" stroke="#7f7f7f" stroke-width="1"/>
<line x1="39.60" y1="553.90" x2="332.20" y2="553.90" stroke="#7f7f7f" stroke-width="1"/>
<line x1="39.60" y1="553.90" x2="42.60" y2="553.90" stroke="#7f7f7f" stroke-width="0.8"/>
<text x="35.60" y="557.43" font-size="9.8" fill="#262626" color="#262626" text-anchor="end" >0</text>
<line x1="39.60" y1="511.30" x2="42.60" y2="511.30" stroke="#7f7f7f" stroke-width="0.8"/>
<text x="35.60" y="514.83" font-size="9.8" fill="#262626" color="#262626" text-anchor="end" >0.2</text>
<line x1="39.60" y1="468.70" x2="42.60" y2="468.70" stroke="#7f7f7f" stroke-width="0.8"/>
<text x="35.60" y="472.23" font-size="9.8" fill="#262626" color="#262626" text-anchor="end" >0.4</text>
<line x1="39.60" y1="426.10" x2="42.60" y2="426.10" stroke="#7f7f7f" stroke-width="0.8"/>
<text x="35.60" y="429.63" font-size="9.8" fill="#262626" color="#262626" text-anchor="end" >0.6</text>
<line x1="39.60" y1="383.50" x2="42.60" y2="383.50" stroke="#7f7f7f" stroke-width="0.8"/>
<text x="35.60" y="387.03" font-size="9.8" fill="#262626" color="#262626" text-anchor="end" >0.8</text>
<line x1="39.60" y1="340.90" x2="42.60" y2="340.90" stroke="#7f7f7f" stroke-width="0.8"/>
<text x="35.60" y="344.43" font-size="9.8" fill="#262626" color="#262626" text-anchor="end" >1</text>
<line x1="39.60" y1="553.90" x2="39.60" y2="550.90" stroke="#7f7f7f" stroke-width="0.8"/>
<text x="39.60" y="567.50" font-size="9.8" fill="#262626" color="#262626" text-anchor="middle" >0</text>
<line x1="98.12" y1="553.90" x2="98.12" y2="550.90" stroke="#7f7f7f" stroke-width="0.8"/>
<text x="98.12" y="567.50" font-size="9.8" fill="#262626" color="#262626" text-anchor="middle" >100</text>
<line x1="156.64" y1="553.90" x2="156.64" y2="550.90" stroke="#7f7f7f" stroke-width="0.8"/>
<text x="156.64" y="567.50" font-size="9.8" fill="#262626" color="#262626" text-anchor="middle" >200</text>
<line x1="215.16" y1="553.90" x2="215.16" y2="550.90" stroke="#7f7f7f" stroke-width="0.8"/>
<text x="215.16" y="567.50" font-size="9.8" fill="#262626" color="#262626" text-anchor="middle" >300</text>
<line x1="273.68" y1="553.90" x2="273.68" y2="550.90" stroke="#7f7f7f" stroke-width="0.8"/>
<text x="273.68" y="567.50" font-size="9.8" fill="#262626" color="#262626" text-anchor="middle" >400</text>
<line x1="332.20" y1="553.90" x2="332.20" y2="550.90" stroke="#7f7f7f" stroke-width="0.8"/>
<text x="332.20" y="567.50" font-size="9.8" fill="#262626" color="#262626" text-anchor="middle" >500</text>
<line x1="39.40" y1="330.50" x2="39.40" y2="333.50" stroke="#86b9e3" stroke-width="0.8"/>
<text x="39.40" y="324.30" font-size="9.8" fill="#1f7cc6" color="#1f7cc6" text-anchor="middle" >0</text>
<line x1="67.60" y1="330.50" x2="67.60" y2="333.50" stroke="#86b9e3" stroke-width="0.8"/>
<text x="67.60" y="324.30" font-size="9.8" fill="#1f7cc6" color="#1f7cc6" text-anchor="middle" >1</text>
<line x1="95.80" y1="330.50" x2="95.80" y2="333.50" stroke="#86b9e3" stroke-width="0.8"/>
<text x="95.80" y="324.30" font-size="9.8" fill="#1f7cc6" color="#1f7cc6" text-anchor="middle" >2</text>
<line x1="124.00" y1="330.50" x2="124.00" y2="333.50" stroke="#86b9e3" stroke-width="0.8"/>
<text x="124.00" y="324.30" font-size="9.8" fill="#1f7cc6" color="#1f7cc6" text-anchor="middle" >3</text>
<line x1="152.20" y1="330.50" x2="152.20" y2="333.50" stroke="#86b9e3" stroke-width="0.8"/>
<text x="152.20" y="324.30" font-size="9.8" fill="#1f7cc6" color="#1f7cc6" text-anchor="middle" >4</text>
<line x1="180.40" y1="330.50" x2="180.40" y2="333.50" stroke="#86b9e3" stroke-width="0.8"/>
<text x="180.40" y="324.30" font-size="9.8" fill="#1f7cc6" color="#1f7cc6" text-anchor="middle" >5</text>
<line x1="208.60" y1="330.50" x2="208.60" y2="333.50" stroke="#86b9e3" stroke-width="0.8"/>
<text x="208.60" y="324.30" font-size="9.8" fill="#1f7cc6" color="#1f7cc6" text-anchor="middle" >6</text>
<line x1="236.80" y1="330.50" x2="236.80" y2="333.50" stroke="#86b9e3" stroke-width="0.8"/>
<text x="236.80" y="324.30" font-size="9.8" fill="#1f7cc6" color="#1f7cc6" text-anchor="middle" >7</text>
<line x1="265.00" y1="330.50" x2="265.00" y2="333.50" stroke="#86b9e3" stroke-width="0.8"/>
<text x="265.00" y="324.30" font-size="9.8" fill="#1f7cc6" color="#1f7cc6" text-anchor="middle" >8</text>
<line x1="293.20" y1="330.50" x2="293.20" y2="333.50" stroke="#86b9e3" stroke-width="0.8"/>
<text x="293.20" y="324.30" font-size="9.8" fill="#1f7cc6" color="#1f7cc6" text-anchor="middle" >9</text>
<line x1="321.40" y1="330.50" x2="321.40" y2="333.50" stroke="#86b9e3" stroke-width="0.8"/>
<text x="321.40" y="324.30" font-size="9.8" fill="#1f7cc6" color="#1f7cc6" text-anchor="middle" >10</text>
<text x="185.40" y="313.50" font-size="10.9" fill="#1f7cc6" color="#1f7cc6" text-anchor="middle" >Number of cavity round-trips</text>
<text x="185.90" y="581.60" font-size="10.8" fill="#262626" color="#262626" text-anchor="middle" >Time (ns)</text>
<text transform="translate(17.40,441.80) rotate(-90)" font-size="11.1" fill="#262626" color="#262626" text-anchor="middle">Pulse energy (a.u.)</text>
<polyline fill="none" stroke="#ff3a3a" stroke-width="1.0" points="67.79,340.90 69.06,347.73 70.33,354.35 71.59,360.75 72.86,366.94 74.13,372.94 75.40,378.74 76.67,384.36 77.94,389.80 79.21,395.06 80.47,400.16 81.74,405.09 83.01,409.86 84.28,414.48 85.55,418.95 86.82,423.28 88.09,427.47 89.35,431.53 90.62,435.45 91.89,439.25 93.16,442.93 94.43,446.49 95.70,449.93 96.96,453.27 98.23,456.50 99.50,459.62 100.77,462.64 102.04,465.57 103.31,468.40 104.58,471.15 105.84,473.80 107.11,476.37 108.38,478.86 109.65,481.26 110.92,483.59 112.19,485.85 113.46,488.03 114.72,490.14 115.99,492.19 117.26,494.17 118.53,496.09 119.80,497.94 121.07,499.73 122.33,501.47 123.60,503.15 124.87,504.78 126.14,506.36 127.41,507.88 128.68,509.36 129.95,510.79 131.21,512.17 132.48,513.51 133.75,514.80 135.02,516.06 136.29,517.27 137.56,518.45 138.83,519.58 140.09,520.68 141.36,521.75 142.63,522.78 143.90,523.78 145.17,524.75 146.44,525.68 147.71,526.59 148.97,527.46 150.24,528.31 151.51,529.13 152.78,529.92 154.05,530.69 155.32,531.44 156.58,532.16 157.85,532.86 159.12,533.53 160.39,534.18 161.66,534.82 162.93,535.43 164.20,536.02 165.46,536.59 166.73,537.15 168.00,537.69 169.27,538.21 170.54,538.71 171.81,539.20 173.08,539.67 174.34,540.13 175.61,540.57 176.88,541.00 178.15,541.41 179.42,541.81 180.69,542.20 181.95,542.57 183.22,542.94 184.49,543.29 185.76,543.63 187.03,543.96 188.30,544.28 189.57,544.59 190.83,544.88 192.10,545.17 193.37,545.45 194.64,545.72 195.91,545.99 197.18,546.24 198.45,546.49 199.71,546.72 200.98,546.95 202.25,547.18 203.52,547.39 204.79,547.60 206.06,547.80 207.33,548.00 208.59,548.19 209.86,548.37 211.13,548.55 212.40,548.72 213.67,548.89 214.94,549.05 216.20,549.20 217.47,549.35 218.74,549.50 220.01,549.64 221.28,549.78 222.55,549.91 223.82,550.04 225.08,550.16 226.35,550.28 227.62,550.40 228.89,550.51 230.16,550.62 231.43,550.72 232.70,550.83 233.96,550.92 235.23,551.02 236.50,551.11 237.77,551.20 239.04,551.29 240.31,551.37 241.57,551.45 242.84,551.53 244.11,551.61 245.38,551.68 246.65,551.75 247.92,551.82 249.19,551.89 250.45,551.95 251.72,552.01 252.99,552.08 254.26,552.13 255.53,552.19 256.80,552.25 258.07,552.30 259.33,552.35 260.60,552.40 261.87,552.45 263.14,552.49 264.41,552.54 265.68,552.58 266.94,552.63 268.21,552.67 269.48,552.71 270.75,552.74 272.02,552.78 273.29,552.82 274.56,552.85 275.82,552.89 277.09,552.92 278.36,552.95 279.63,552.98 280.90,553.01 282.17,553.04 283.44,553.07 284.70,553.09 285.97,553.12 287.24,553.14 288.51,553.17 289.78,553.19 291.05,553.21 292.32,553.24 293.58,553.26 294.85,553.28 296.12,553.30 297.39,553.32 298.66,553.34 299.93,553.35 301.19,553.37 302.46,553.39 303.73,553.40 305.00,553.42 306.27,553.44 307.54,553.45 308.81,553.47 310.07,553.48 311.34,553.49 312.61,553.51 313.88,553.52 315.15,553.53 316.42,553.54 317.69,553.55 318.95,553.57 320.22,553.58 321.49,553.59"/>
<circle cx="67.79" cy="340.90" r="2.2" fill="#a8102c"/>
<circle cx="95.98" cy="450.68" r="2.2" fill="#a8102c"/>
<circle cx="124.17" cy="503.88" r="2.2" fill="#a8102c"/>
<circle cx="152.36" cy="529.66" r="2.2" fill="#a8102c"/>
<circle cx="180.55" cy="542.16" r="2.2" fill="#a8102c"/>
<circle cx="208.73" cy="548.21" r="2.2" fill="#a8102c"/>
<circle cx="236.92" cy="551.14" r="2.2" fill="#a8102c"/>
<circle cx="265.11" cy="552.56" r="2.2" fill="#a8102c"/>
<circle cx="293.30" cy="553.25" r="2.2" fill="#a8102c"/>
<circle cx="321.49" cy="553.59" r="2.2" fill="#a8102c"/>
<text x="163.30" y="364.40" font-size="9.9" fill="#262626" color="#262626" text-anchor="middle" >Energy decay time</text>
<path d="M134.20,379.50 Q135.00,378.50 136.30,378.60 L139.70,378.60 M136.90,378.70 Q136.60,381.30 136.20,383.70" fill="none" stroke="#ff3030" stroke-width="0.95" stroke-linecap="butt"/>
<text x="143.10" y="383.90" font-size="11.3" fill="#ff3030" color="#ff3030" text-anchor="start" >= 66.49 ns</text>
<text x="272.20" y="351.40" font-size="9.9" fill="#262626" color="#262626" text-anchor="middle" >Time-Bandwidth</text>
<text x="272.20" y="364.40" font-size="9.9" fill="#262626" color="#262626" text-anchor="middle" >Product</text>
<text x="273.00" y="383.90" font-size="11.3" fill="#ff3030" color="#ff3030" text-anchor="middle" >TBP = 2.38</text>
<text x="272.70" y="424.50" font-size="9.9" fill="#262626" color="#262626" text-anchor="middle" >Loss per Round Trip</text>
<rect x="233.4" y="432.3" width="76.3" height="29.3" fill="#fff" stroke="#a0a0a0" stroke-width="0.8"/>
<circle cx="246.40" cy="440.10" r="2.1" fill="#a8102c"/>
<text x="258.80" y="443.90" font-size="9.9" fill="#262626" color="#262626" text-anchor="start" >3.17 dB</text>
<line x1="236.20" y1="453.50" x2="256.40" y2="453.50" stroke="#ff3a3a" stroke-width="1.0"/>
<text x="258.80" y="456.90" font-size="9.9" fill="#262626" color="#262626" text-anchor="start" >fitted curve</text>
<text x="2.10" y="311.20" font-size="16.8" fill="#111" color="#111" text-anchor="start" style="font-family:Liberation Serif">(c)</text>
<line x1="398.60" y1="330.50" x2="691.50" y2="330.50" stroke="#86b9e3" stroke-width="1.0"/>
<line x1="691.50" y1="330.50" x2="691.50" y2="553.50" stroke="#a3c9ea" stroke-width="1.0"/>
<line x1="398.60" y1="330.50" x2="398.60" y2="553.50" stroke="#7f7f7f" stroke-width="1"/>
<line x1="398.60" y1="553.50" x2="691.50" y2="553.50" stroke="#7f7f7f" stroke-width="1"/>
<line x1="398.60" y1="553.50" x2="401.60" y2="553.50" stroke="#7f7f7f" stroke-width="0.8"/>
<text x="394.60" y="557.03" font-size="9.8" fill="#262626" color="#262626" text-anchor="end" >0</text>
<line x1="398.60" y1="509.30" x2="401.60" y2="509.30" stroke="#7f7f7f" stroke-width="0.8"/>
<text x="394.60" y="512.83" font-size="9.8" fill="#262626" color="#262626" text-anchor="end" >0.2</text>
<line x1="398.60" y1="465.10" x2="401.60" y2="465.10" stroke="#7f7f7f" stroke-width="0.8"/>
<text x="394.60" y="468.63" font-size="9.8" fill="#262626" color="#262626" text-anchor="end" >0.4</text>
<line x1="398.60" y1="420.90" x2="401.60" y2="420.90" stroke="#7f7f7f" stroke-width="0.8"/>
<text x="394.60" y="424.43" font-size="9.8" fill="#262626" color="#262626" text-anchor="end" >0.6</text>
<line x1="398.60" y1="376.70" x2="401.60" y2="376.70" stroke="#7f7f7f" stroke-width="0.8"/>
<text x="394.60" y="380.23" font-size="9.8" fill="#262626" color="#262626" text-anchor="end" >0.8</text>
<line x1="398.60" y1="332.50" x2="401.60" y2="332.50" stroke="#7f7f7f" stroke-width="0.8"/>
<text x="394.60" y="336.03" font-size="9.8" fill="#262626" color="#262626" text-anchor="end" >1</text>
<line x1="398.60" y1="553.50" x2="398.60" y2="550.50" stroke="#7f7f7f" stroke-width="0.8"/>
<text x="398.60" y="567.10" font-size="9.8" fill="#262626" color="#262626" text-anchor="middle" >0</text>
<line x1="447.42" y1="553.50" x2="447.42" y2="550.50" stroke="#7f7f7f" stroke-width="0.8"/>
<text x="447.42" y="567.10" font-size="9.8" fill="#262626" color="#262626" text-anchor="middle" >2500</text>
<line x1="496.23" y1="553.50" x2="496.23" y2="550.50" stroke="#7f7f7f" stroke-width="0.8"/>
<text x="496.23" y="567.10" font-size="9.8" fill="#262626" color="#262626" text-anchor="middle" >5000</text>
<line x1="545.05" y1="553.50" x2="545.05" y2="550.50" stroke="#7f7f7f" stroke-width="0.8"/>
<text x="545.05" y="567.10" font-size="9.8" fill="#262626" color="#262626" text-anchor="middle" >7500</text>
<line x1="593.87" y1="553.50" x2="593.87" y2="550.50" stroke="#7f7f7f" stroke-width="0.8"/>
<text x="593.87" y="567.10" font-size="9.8" fill="#262626" color="#262626" text-anchor="middle" >10000</text>
<line x1="642.68" y1="553.50" x2="642.68" y2="550.50" stroke="#7f7f7f" stroke-width="0.8"/>
<text x="642.68" y="567.10" font-size="9.8" fill="#262626" color="#262626" text-anchor="middle" >12500</text>
<line x1="691.50" y1="553.50" x2="691.50" y2="550.50" stroke="#7f7f7f" stroke-width="0.8"/>
<text x="691.50" y="567.10" font-size="9.8" fill="#262626" color="#262626" text-anchor="middle" >15000</text>
<line x1="398.80" y1="330.50" x2="398.80" y2="333.50" stroke="#86b9e3" stroke-width="0.8"/>
<text x="398.80" y="324.00" font-size="9.8" fill="#1f7cc6" color="#1f7cc6" text-anchor="middle" >0</text>
<line x1="445.75" y1="330.50" x2="445.75" y2="333.50" stroke="#86b9e3" stroke-width="0.8"/>
<text x="445.75" y="324.00" font-size="9.8" fill="#1f7cc6" color="#1f7cc6" text-anchor="middle" >20</text>
<line x1="492.70" y1="330.50" x2="492.70" y2="333.50" stroke="#86b9e3" stroke-width="0.8"/>
<text x="492.70" y="324.00" font-size="9.8" fill="#1f7cc6" color="#1f7cc6" text-anchor="middle" >40</text>
<line x1="539.65" y1="330.50" x2="539.65" y2="333.50" stroke="#86b9e3" stroke-width="0.8"/>
<text x="539.65" y="324.00" font-size="9.8" fill="#1f7cc6" color="#1f7cc6" text-anchor="middle" >60</text>
<line x1="586.60" y1="330.50" x2="586.60" y2="333.50" stroke="#86b9e3" stroke-width="0.8"/>
<text x="586.60" y="324.00" font-size="9.8" fill="#1f7cc6" color="#1f7cc6" text-anchor="middle" >80</text>
<line x1="633.55" y1="330.50" x2="633.55" y2="333.50" stroke="#86b9e3" stroke-width="0.8"/>
<text x="633.55" y="324.00" font-size="9.8" fill="#1f7cc6" color="#1f7cc6" text-anchor="middle" >100</text>
<line x1="680.50" y1="330.50" x2="680.50" y2="333.50" stroke="#86b9e3" stroke-width="0.8"/>
<text x="680.50" y="324.00" font-size="9.8" fill="#1f7cc6" color="#1f7cc6" text-anchor="middle" >120</text>
<text x="536.80" y="314.20" font-size="10.9" fill="#1f7cc6" color="#1f7cc6" text-anchor="middle" >Number of cavity round-trips</text>
<text x="545.05" y="581.60" font-size="10.8" fill="#262626" color="#262626" text-anchor="middle" >Time (ns)</text>
<text transform="translate(376.80,441.00) rotate(-90)" font-size="11.1" fill="#262626" color="#262626" text-anchor="middle">Pulse energy (a.u.)</text>
<polyline fill="none" stroke="#f26565" stroke-width="1.0" points="400.95,332.50 402.34,336.89 403.74,341.20 405.14,345.42 406.53,349.56 407.93,353.62 409.33,357.59 410.72,361.49 412.12,365.30 413.52,369.05 414.91,372.71 416.31,376.31 417.71,379.83 419.10,383.28 420.50,386.67 421.90,389.99 423.29,393.24 424.69,396.42 426.08,399.55 427.48,402.61 428.88,405.61 430.27,408.55 431.67,411.43 433.07,414.26 434.46,417.03 435.86,419.74 437.26,422.40 438.65,425.01 440.05,427.56 441.45,430.07 442.84,432.52 444.24,434.93 445.64,437.28 447.03,439.59 448.43,441.86 449.83,444.08 451.22,446.25 452.62,448.39 454.02,450.48 455.41,452.53 456.81,454.53 458.20,456.50 459.60,458.43 461.00,460.32 462.39,462.17 463.79,463.99 465.19,465.77 466.58,467.51 467.98,469.22 469.38,470.90 470.77,472.54 472.17,474.15 473.57,475.73 474.96,477.28 476.36,478.79 477.76,480.28 479.15,481.73 480.55,483.16 481.95,484.56 483.34,485.93 484.74,487.27 486.14,488.59 487.53,489.88 488.93,491.15 490.32,492.39 491.72,493.60 493.12,494.79 494.51,495.96 495.91,497.10 497.31,498.22 498.70,499.32 500.10,500.40 501.50,501.46 502.89,502.49 504.29,503.51 505.69,504.50 507.08,505.47 508.48,506.43 509.88,507.37 511.27,508.28 512.67,509.18 514.07,510.06 515.46,510.93 516.86,511.77 518.26,512.60 519.65,513.42 521.05,514.21 522.45,514.99 523.84,515.76 525.24,516.51 526.63,517.25 528.03,517.97 529.43,518.67 530.82,519.37 532.22,520.04 533.62,520.71 535.01,521.36 536.41,522.00 537.81,522.63 539.20,523.24 540.60,523.84 542.00,524.43 543.39,525.01 544.79,525.58 546.19,526.13 547.58,526.68 548.98,527.21 550.38,527.73 551.77,528.24 553.17,528.75 554.57,529.24 555.96,529.72 557.36,530.19 558.75,530.66 560.15,531.11 561.55,531.56 562.94,531.99 564.34,532.42 565.74,532.84 567.13,533.25 568.53,533.65 569.93,534.05 571.32,534.44 572.72,534.81 574.12,535.19 575.51,535.55 576.91,535.91 578.31,536.26 579.70,536.60 581.10,536.94 582.50,537.26 583.89,537.59 585.29,537.90 586.69,538.21 588.08,538.52 589.48,538.82 590.87,539.11 592.27,539.39 593.67,539.67 595.06,539.95 596.46,540.22 597.86,540.48 599.25,540.74 600.65,541.00 602.05,541.24 603.44,541.49 604.84,541.73 606.24,541.96 607.63,542.19 609.03,542.42 610.43,542.64 611.82,542.85 613.22,543.06 614.62,543.27 616.01,543.47 617.41,543.67 618.81,543.87 620.20,544.06 621.60,544.25 623.00,544.43 624.39,544.61 625.79,544.79 627.18,544.96 628.58,545.13 629.98,545.30 631.37,545.46 632.77,545.62 634.17,545.78 635.56,545.93 636.96,546.08 638.36,546.23 639.75,546.37 641.15,546.52 642.55,546.65 643.94,546.79 645.34,546.92 646.74,547.06 648.13,547.18 649.53,547.31 650.93,547.43 652.32,547.55 653.72,547.67 655.12,547.79 656.51,547.90 657.91,548.01 659.30,548.12 660.70,548.23 662.10,548.33 663.49,548.44 664.89,548.54 666.29,548.63 667.68,548.73 669.08,548.83 670.48,548.92 671.87,549.01 673.27,549.10 674.67,549.19 676.06,549.27 677.46,549.36 678.86,549.44 680.25,549.52"/>
<polyline fill="none" stroke="#3d98ee" stroke-width="1.0" points="400.95,332.50 402.34,339.49 403.74,346.25 405.14,352.81 406.53,359.15 407.93,365.29 409.33,371.25 410.72,377.01 412.12,382.59 413.52,387.99 414.91,393.22 416.31,398.29 417.71,403.20 419.10,407.95 420.50,412.55 421.90,417.01 423.29,421.32 424.69,425.50 426.08,429.55 427.48,433.47 428.88,437.26 430.27,440.94 431.67,444.50 433.07,447.94 434.46,451.28 435.86,454.51 437.26,457.64 438.65,460.67 440.05,463.61 441.45,466.45 442.84,469.20 444.24,471.87 445.64,474.45 447.03,476.95 448.43,479.37 449.83,481.71 451.22,483.98 452.62,486.18 454.02,488.31 455.41,490.37 456.81,492.36 458.20,494.30 459.60,496.17 461.00,497.98 462.39,499.74 463.79,501.44 465.19,503.08 466.58,504.68 467.98,506.22 469.38,507.71 470.77,509.16 472.17,510.56 473.57,511.92 474.96,513.24 476.36,514.51 477.76,515.74 479.15,516.93 480.55,518.09 481.95,519.21 483.34,520.29 484.74,521.34 486.14,522.36 487.53,523.35 488.93,524.30 490.32,525.22 491.72,526.12 493.12,526.98 494.51,527.82 495.91,528.63 497.31,529.42 498.70,530.18 500.10,530.92 501.50,531.63 502.89,532.32 504.29,532.99 505.69,533.64 507.08,534.27 508.48,534.88 509.88,535.46 511.27,536.03 512.67,536.59 514.07,537.12 515.46,537.64 516.86,538.14 518.26,538.63 519.65,539.10 521.05,539.55 522.45,539.99 523.84,540.42 525.24,540.83 526.63,541.23 528.03,541.62 529.43,542.00 530.82,542.36 532.22,542.71 533.62,543.05 535.01,543.38 536.41,543.70 537.81,544.01 539.20,544.31 540.60,544.60 542.00,544.89 543.39,545.16 544.79,545.42 546.19,545.68 547.58,545.92 548.98,546.16 550.38,546.40 551.77,546.62 553.17,546.84 554.57,547.05 555.96,547.25 557.36,547.45 558.75,547.64 560.15,547.83 561.55,548.01 562.94,548.18 564.34,548.35 565.74,548.51 567.13,548.67 568.53,548.82 569.93,548.97 571.32,549.11 572.72,549.25 574.12,549.39 575.51,549.52 576.91,549.64 578.31,549.76 579.70,549.88 581.10,550.00 582.50,550.11 583.89,550.21 585.29,550.32 586.69,550.42 588.08,550.52 589.48,550.61 590.87,550.70 592.27,550.79 593.67,550.88 595.06,550.96 596.46,551.04 597.86,551.12 599.25,551.19 600.65,551.27 602.05,551.34 603.44,551.40 604.84,551.47 606.24,551.53 607.63,551.60 609.03,551.66 610.43,551.72 611.82,551.77 613.22,551.83 614.62,551.88 616.01,551.93 617.41,551.98 618.81,552.03 620.20,552.07 621.60,552.12 623.00,552.16 624.39,552.21 625.79,552.25 627.18,552.29 628.58,552.32 629.98,552.36 631.37,552.40 632.77,552.43 634.17,552.47 635.56,552.50 636.96,552.53 638.36,552.56 639.75,552.59 641.15,552.62 642.55,552.65 643.94,552.67 645.34,552.70 646.74,552.73 648.13,552.75 649.53,552.77 650.93,552.80 652.32,552.82 653.72,552.84 655.12,552.86 656.51,552.88 657.91,552.90 659.30,552.92 660.70,552.94 662.10,552.96 663.49,552.97 664.89,552.99 666.29,553.01 667.68,553.02 669.08,553.04 670.48,553.05 671.87,553.07 673.27,553.08 674.67,553.09 676.06,553.11 677.46,553.12 678.86,553.13 680.25,553.14"/>
<polyline fill="none" stroke="#36cc98" stroke-width="1.0" points="400.95,332.50 402.34,343.84 403.74,354.59 405.14,364.80 406.53,374.48 407.93,383.66 409.33,392.37 410.72,400.64 412.12,408.48 413.52,415.92 414.91,422.98 416.31,429.67 417.71,436.02 419.10,442.05 420.50,447.77 421.90,453.19 423.29,458.34 424.69,463.22 426.08,467.85 427.48,472.24 428.88,476.41 430.27,480.37 431.67,484.12 433.07,487.68 434.46,491.05 435.86,494.26 437.26,497.30 438.65,500.18 440.05,502.92 441.45,505.51 442.84,507.97 444.24,510.31 445.64,512.52 447.03,514.63 448.43,516.62 449.83,518.51 451.22,520.31 452.62,522.01 454.02,523.62 455.41,525.16 456.81,526.61 458.20,527.99 459.60,529.30 461.00,530.54 462.39,531.72 463.79,532.84 465.19,533.90 466.58,534.90 467.98,535.86 469.38,536.76 470.77,537.62 472.17,538.43 473.57,539.21 474.96,539.94 476.36,540.64 477.76,541.30 479.15,541.92 480.55,542.52 481.95,543.08 483.34,543.61 484.74,544.12 486.14,544.60 487.53,545.06 488.93,545.49 490.32,545.90 491.72,546.29 493.12,546.66 494.51,547.01 495.91,547.35 497.31,547.66 498.70,547.96 500.10,548.24 501.50,548.51 502.89,548.77 504.29,549.01 505.69,549.24 507.08,549.46 508.48,549.67 509.88,549.87 511.27,550.05 512.67,550.23 514.07,550.40 515.46,550.56 516.86,550.71 518.26,550.85 519.65,550.99 521.05,551.11 522.45,551.24 523.84,551.35 525.24,551.46 526.63,551.57 528.03,551.67 529.43,551.76 530.82,551.85 532.22,551.93 533.62,552.02 535.01,552.09 536.41,552.16 537.81,552.23 539.20,552.30 540.60,552.36 542.00,552.42 543.39,552.47 544.79,552.53 546.19,552.58 547.58,552.62 548.98,552.67 550.38,552.71 551.77,552.75 553.17,552.79 554.57,552.83 555.96,552.86 557.36,552.89 558.75,552.92 560.15,552.95 561.55,552.98 562.94,553.01 564.34,553.03 565.74,553.06 567.13,553.08 568.53,553.10 569.93,553.12 571.32,553.14 572.72,553.16 574.12,553.18 575.51,553.19 576.91,553.21 578.31,553.22 579.70,553.24 581.10,553.25 582.50,553.26 583.89,553.28 585.29,553.29 586.69,553.30 588.08,553.31 589.48,553.32 590.87,553.33 592.27,553.34 593.67,553.35 595.06,553.35 596.46,553.36 597.86,553.37 599.25,553.38 600.65,553.38 602.05,553.39 603.44,553.39 604.84,553.40 606.24,553.40 607.63,553.41 609.03,553.41 610.43,553.42 611.82,553.42 613.22,553.43 614.62,553.43 616.01,553.43 617.41,553.44 618.81,553.44 620.20,553.44 621.60,553.45 623.00,553.45 624.39,553.45 625.79,553.45 627.18,553.46 628.58,553.46 629.98,553.46 631.37,553.46 632.77,553.46 634.17,553.47 635.56,553.47 636.96,553.47 638.36,553.47 639.75,553.47 641.15,553.47 642.55,553.48 643.94,553.48 645.34,553.48 646.74,553.48 648.13,553.48 649.53,553.48 650.93,553.48 652.32,553.48 653.72,553.48 655.12,553.48 656.51,553.49 657.91,553.49 659.30,553.49 660.70,553.49 662.10,553.49 663.49,553.49 664.89,553.49 666.29,553.49 667.68,553.49 669.08,553.49 670.48,553.49 671.87,553.49 673.27,553.49 674.67,553.49 676.06,553.49 677.46,553.49 678.86,553.49 680.25,553.49"/>
<circle cx="400.95" cy="332.50" r="2.1" fill="#a8142e"/>
<circle cx="422.07" cy="390.40" r="2.1" fill="#a8142e"/>
<circle cx="445.54" cy="437.13" r="2.1" fill="#a8142e"/>
<circle cx="469.01" cy="470.47" r="2.1" fill="#a8142e"/>
<circle cx="492.48" cy="494.25" r="2.1" fill="#a8142e"/>
<circle cx="515.96" cy="511.23" r="2.1" fill="#a8142e"/>
<circle cx="539.43" cy="523.34" r="2.1" fill="#a8142e"/>
<circle cx="562.90" cy="531.98" r="2.1" fill="#a8142e"/>
<circle cx="586.37" cy="538.14" r="2.1" fill="#a8142e"/>
<circle cx="609.84" cy="542.54" r="2.1" fill="#a8142e"/>
<circle cx="633.31" cy="545.68" r="2.1" fill="#a8142e"/>
<circle cx="656.78" cy="547.92" r="2.1" fill="#a8142e"/>
<circle cx="680.25" cy="549.52" r="2.1" fill="#a8142e"/>
<circle cx="400.95" cy="332.50" r="2.1" fill="#1f3b73"/>
<circle cx="422.07" cy="417.56" r="2.1" fill="#1f3b73"/>
<circle cx="445.54" cy="474.28" r="2.1" fill="#1f3b73"/>
<circle cx="469.01" cy="507.33" r="2.1" fill="#1f3b73"/>
<circle cx="492.48" cy="526.59" r="2.1" fill="#1f3b73"/>
<circle cx="515.96" cy="537.82" r="2.1" fill="#1f3b73"/>
<circle cx="539.43" cy="544.36" r="2.1" fill="#1f3b73"/>
<circle cx="562.90" cy="548.17" r="2.1" fill="#1f3b73"/>
<circle cx="586.37" cy="550.40" r="2.1" fill="#1f3b73"/>
<circle cx="609.84" cy="551.69" r="2.1" fill="#1f3b73"/>
<circle cx="633.31" cy="552.45" r="2.1" fill="#1f3b73"/>
<circle cx="656.78" cy="552.89" r="2.1" fill="#1f3b73"/>
<circle cx="680.25" cy="553.14" r="2.1" fill="#1f3b73"/>
<circle cx="400.95" cy="332.50" r="2.1" fill="#0a8a20"/>
<circle cx="422.07" cy="453.86" r="2.1" fill="#0a8a20"/>
<circle cx="445.54" cy="512.38" r="2.1" fill="#0a8a20"/>
<circle cx="469.01" cy="536.53" r="2.1" fill="#0a8a20"/>
<circle cx="492.48" cy="546.50" r="2.1" fill="#0a8a20"/>
<circle cx="515.96" cy="550.61" r="2.1" fill="#0a8a20"/>
<circle cx="539.43" cy="552.31" r="2.1" fill="#0a8a20"/>
<circle cx="562.90" cy="553.01" r="2.1" fill="#0a8a20"/>
<circle cx="586.37" cy="553.30" r="2.1" fill="#0a8a20"/>
<circle cx="609.84" cy="553.42" r="2.1" fill="#0a8a20"/>
<circle cx="633.31" cy="553.47" r="2.1" fill="#0a8a20"/>
<circle cx="656.78" cy="553.49" r="2.1" fill="#0a8a20"/>
<circle cx="680.25" cy="553.49" r="2.1" fill="#0a8a20"/>
<text x="531.30" y="365.50" font-size="9.9" fill="#262626" color="#262626" text-anchor="middle" >Energy decay time</text>
<path d="M495.30,380.70 Q496.10,379.70 497.40,379.80 L500.80,379.80 M498.00,379.90 Q497.70,382.50 497.30,384.90" fill="none" stroke="#f26565" stroke-width="0.95" stroke-linecap="butt"/>
<text x="500.5" y="390.10" font-size="9" fill="#f26565" color="#f26565">1</text>
<text x="509.00" y="385.10" font-size="11.1" fill="#f26565" color="#f26565" text-anchor="start" >= 3560.9 ns</text>
<path d="M495.30,398.40 Q496.10,397.40 497.40,397.50 L500.80,397.50 M498.00,397.60 Q497.70,400.20 497.30,402.60" fill="none" stroke="#3d98ee" stroke-width="0.95" stroke-linecap="butt"/>
<text x="500.5" y="407.80" font-size="9" fill="#3d98ee" color="#3d98ee">2</text>
<text x="509.00" y="402.80" font-size="11.1" fill="#3d98ee" color="#3d98ee" text-anchor="start" >= 2226.2 ns</text>
<path d="M495.30,416.10 Q496.10,415.10 497.40,415.20 L500.80,415.20 M498.00,415.30 Q497.70,417.90 497.30,420.30" fill="none" stroke="#36cc98" stroke-width="0.95" stroke-linecap="butt"/>
<text x="500.5" y="425.50" font-size="9" fill="#36cc98" color="#36cc98">3</text>
<text x="509.00" y="420.50" font-size="11.1" fill="#36cc98" color="#36cc98" text-anchor="start" >= 1358.1 ns</text>
<text x="642.00" y="353.30" font-size="9.9" fill="#262626" color="#262626" text-anchor="middle" >Time-Bandwidth</text>
<text x="642.00" y="365.70" font-size="9.9" fill="#262626" color="#262626" text-anchor="middle" >Product</text>
<text x="643.00" y="385.10" font-size="11.1" fill="#f26565" color="#f26565" text-anchor="middle" >TBP = 30.6</text>
<text x="643.00" y="402.80" font-size="11.1" fill="#3d98ee" color="#3d98ee" text-anchor="middle" >TBP = 19.5</text>
<text x="643.00" y="420.50" font-size="11.1" fill="#36cc98" color="#36cc98" text-anchor="middle" >TBP = 12.3</text>
<text x="580.00" y="453.50" font-size="9.9" fill="#262626" color="#262626" text-anchor="middle" >Loss per</text>
<text x="580.00" y="466.00" font-size="9.9" fill="#262626" color="#262626" text-anchor="middle" >Round Trip</text>
<rect x="610.5" y="447.4" width="75.9" height="82.5" fill="#fff" stroke="#a0a0a0" stroke-width="0.8"/>
<circle cx="623.20" cy="455.30" r="2.1" fill="#a8142e"/>
<text x="635.40" y="458.80" font-size="9.9" fill="#262626" color="#262626" text-anchor="start" >0.15 dB</text>
<line x1="612.80" y1="468.80" x2="633.30" y2="468.80" stroke="#f26565" stroke-width="1.0"/>
<text x="635.40" y="472.40" font-size="9.9" fill="#262626" color="#262626" text-anchor="start" >fitted curve</text>
<circle cx="623.20" cy="482.20" r="2.1" fill="#1f3b73"/>
<text x="635.40" y="485.70" font-size="9.9" fill="#262626" color="#262626" text-anchor="start" >0.25 dB</text>
<line x1="612.80" y1="495.70" x2="633.30" y2="495.70" stroke="#3d98ee" stroke-width="1.0"/>
<text x="635.40" y="499.30" font-size="9.9" fill="#262626" color="#262626" text-anchor="start" >fitted curve</text>
<circle cx="623.20" cy="509.10" r="2.1" fill="#0a8a20"/>
<text x="635.40" y="512.60" font-size="9.9" fill="#262626" color="#262626" text-anchor="start" >0.4 dB</text>
<line x1="612.80" y1="522.60" x2="633.30" y2="522.60" stroke="#36cc98" stroke-width="1.0"/>
<text x="635.40" y="526.20" font-size="9.9" fill="#262626" color="#262626" text-anchor="start" >fitted curve</text>
<text x="357.30" y="311.20" font-size="16.8" fill="#111" color="#111" text-anchor="start" style="font-family:Liberation Serif">(d)</text>
</svg></body></html>
